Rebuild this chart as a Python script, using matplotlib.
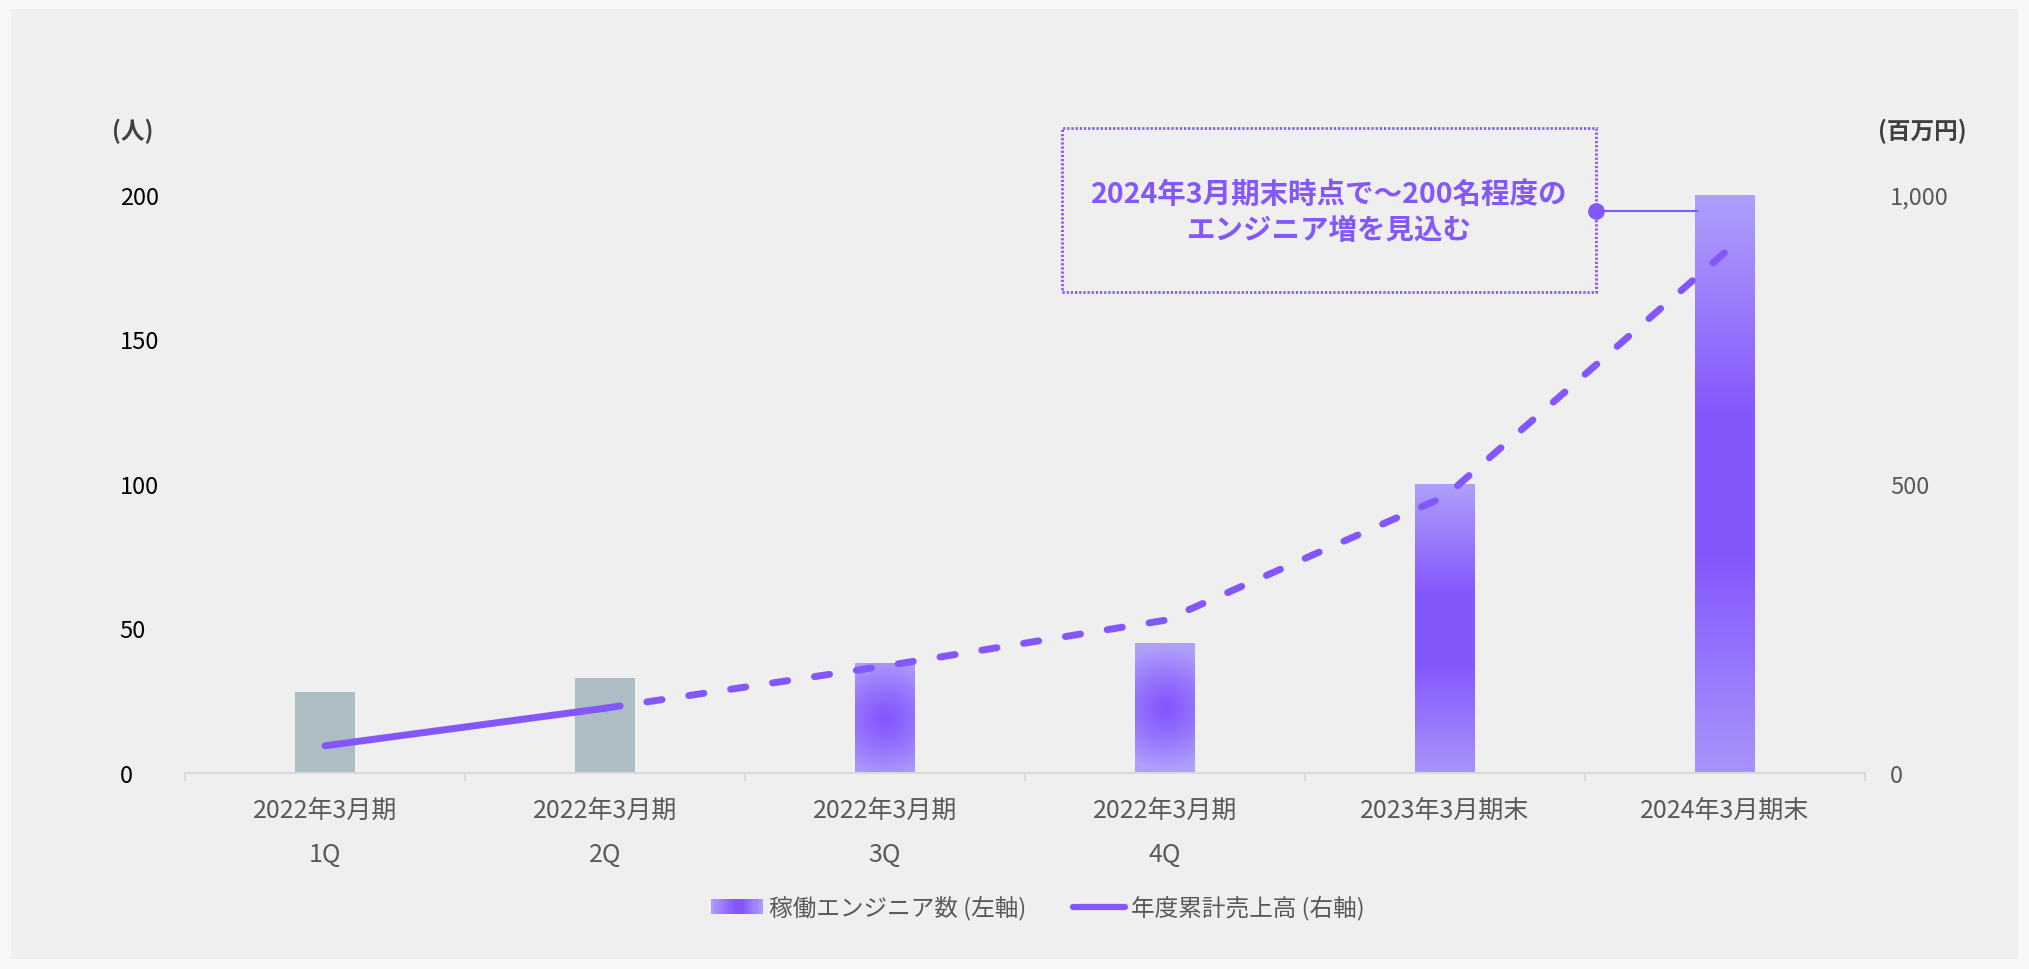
import numpy as np
import matplotlib
matplotlib.use('Agg')
from matplotlib import pyplot as plt
from matplotlib.patches import Rectangle, Patch
from matplotlib.lines import Line2D
from matplotlib.legend_handler import HandlerBase
from matplotlib.colors import to_rgb

# 日本語フォント
plt.rcParams['font.family'] = ['Noto Sans CJK JP', 'DejaVu Sans']

# データ
categories = ['2022年3月期\n1Q', '2022年3月期\n2Q', '2022年3月期\n3Q',
              '2022年3月期\n4Q', '2023年3月期末', '2024年3月期末']
engineers = [28, 33, 38, 45, 100, 200]        # 稼働エンジニア数 (人)
sales = [47, 112, 185, 264, 478, 900]         # 年度累計売上高 (百万円)
left_ticks = [0, 50, 100, 150, 200]
right_ticks = [0, 500, 1000]
right_labels = ['0', '500', '1,000']

PURPLE = '#8457fd'
LIGHT = '#b0a0fb'
GRAY = '#adbdc4'
W, H = 2029, 970


def mix(stops, cols, t):
    # stops/cols に沿って t を補間した RGB
    cols = np.array([to_rgb(c) for c in cols])
    return np.stack([np.interp(t, stops, cols[:, k]) for k in range(3)], axis=-1)


class GradientHandler(HandlerBase):
    def create_artists(self, legend, orig_handle, xdescent, ydescent,
                       width, height, fontsize, trans):
        n = 24
        cs = mix([0, 0.45, 0.6, 1], [LIGHT, PURPLE, PURPLE, LIGHT],
                 (np.arange(n) + 0.5) / n)
        arts = []
        for i in range(n):
            r = Rectangle((-xdescent + i * width / n, -ydescent), width / n + 0.3,
                          height, facecolor=cs[i], lw=0, transform=trans)
            arts.append(r)
        return arts


fig = plt.figure(figsize=(W / 100, H / 100), dpi=100)
fig.patch.set_facecolor('#f7f7f7')
fig.add_artist(Rectangle((11 / W, 10 / H), (W - 22) / W, (H - 20) / H,
                         transform=fig.transFigure, facecolor='#efefef',
                         lw=0, zorder=-10))

ax = fig.add_axes([185 / W, 196 / H, 1680 / W, (774 - 166.6) / H])
ax.set_facecolor('none')
x = np.arange(len(categories))
bars = ax.bar(x, engineers, width=0.214, color=GRAY, lw=0, zorder=2)
ax.set_xlim(-0.5, len(categories) - 0.5)
ax.set_ylim(0, 210)

# グラデーション棒
for i, rect in enumerate(bars):
    if i < 2:
        continue
    x0, y0 = rect.get_xy()
    w, h = rect.get_width(), rect.get_height()
    p0 = ax.transData.transform((x0, y0))
    p1 = ax.transData.transform((x0 + w, y0 + h))
    nx, ny = int(abs(p1[0] - p0[0])) + 1, int(abs(p1[1] - p0[1])) + 1
    yy, xx = np.mgrid[0:ny, 0:nx]
    if i < 4:
        d = np.hypot(xx - nx / 2, yy - ny * 0.5)
        t = np.clip(d / 62, 0, 1) ** 1.3
        img = mix([0, 1], [PURPLE, LIGHT], t)
    else:
        img = mix([0, 0.38, 0.62, 1], [LIGHT, PURPLE, PURPLE, '#a894fb'], yy / ny)
    rect.set_facecolor('none')
    im = ax.imshow(img, extent=[x0, x0 + w, y0, y0 + h], aspect='auto',
                   interpolation='bilinear', zorder=2)
    im.set_clip_path(rect)
ax.set_xlim(-0.5, len(categories) - 0.5)
ax.set_ylim(0, 210)

for s in ['top', 'right', 'left']:
    ax.spines[s].set_visible(False)
ax.spines['bottom'].set_color('#d9d9d9')
ax.spines['bottom'].set_linewidth(1.5)

ax.set_xticks(x)
ax.set_xticklabels(categories, fontsize=18, color='#595959', linespacing=1.9)
ax.set_xticks(np.arange(-0.5, len(categories)), minor=True)
ax.tick_params(axis='x', which='major', length=0, pad=17)
ax.tick_params(axis='x', which='minor', length=6, width=1.5, color='#d9d9d9')

ax.set_yticks(left_ticks)
ax.set_yticklabels([str(v) for v in left_ticks], fontsize=17, color='black')
ax.tick_params(axis='y', length=0, pad=47)
for lbl in ax.get_yticklabels():
    lbl.set_horizontalalignment('left')

# 売上高 (右軸)
ax2 = ax.twinx()
ax2.set_facecolor('none')
ax2.set_ylim(0, 1050)
for s in ax2.spines.values():
    s.set_visible(False)
ax2.set_yticks(right_ticks)
ax2.set_yticklabels(right_labels, fontsize=17, color='#595959')
ax2.tick_params(axis='y', length=0, pad=18)
ax2.plot(x[:2], sales[:2], color=PURPLE, lw=5, solid_capstyle='round', zorder=3)
ax2.plot(x[1:], sales[1:], color=PURPLE, lw=5, dashes=(2.2, 3.9),
         dash_capstyle='round', solid_joinstyle='round', zorder=3)

# 単位
fig.text(133 / W, 1 - 131 / H, '(人)', fontsize=17, fontweight='bold',
         color='#404040', ha='center', va='center')
fig.text(1922 / W, 1 - 131 / H, '(百万円)', fontsize=17, fontweight='bold',
         color='#404040', ha='center', va='center')

# 吹き出し
fig.add_artist(Rectangle((1062 / W, 1 - 293 / H), 534 / W, 164 / H,
                         transform=fig.transFigure, fill=False, edgecolor=PURPLE,
                         lw=2, linestyle=(0, (0.8, 0.7)), zorder=5))
fig.text(1329 / W, 1 - 195 / H, '2024年3月期末時点で～200名程度の', fontsize=20.5,
         fontweight='bold', color=PURPLE, ha='center', va='center')
fig.text(1329 / W, 1 - 231 / H, 'エンジニア増を見込む', fontsize=20.5,
         fontweight='bold', color=PURPLE, ha='center', va='center')
fig.add_artist(Line2D([1596 / W, 1697 / W], [1 - 212 / H, 1 - 212 / H],
                      transform=fig.transFigure, color=PURPLE, lw=1.5, zorder=6))
fig.add_artist(Line2D([1596 / W], [1 - 212 / H], transform=fig.transFigure,
                      marker='o', markersize=11, color=PURPLE, zorder=6))

# 凡例
grad_handle = Patch()
line_handle = Line2D([], [], color=PURPLE, lw=4.5, solid_capstyle='round')
fig.legend([grad_handle, line_handle], ['稼働エンジニア数 (左軸)', '年度累計売上高 (右軸)'],
           handler_map={grad_handle: GradientHandler()},
           loc='center', bbox_to_anchor=(1038 / W, 1 - 908 / H), ncol=2,
           frameon=False, fontsize=17, labelcolor='#595959',
           handlelength=2.2, handleheight=0.6, handletextpad=0.25,
           columnspacing=2.0)

fig.savefig('out.png', dpi=100, facecolor=fig.get_facecolor())
